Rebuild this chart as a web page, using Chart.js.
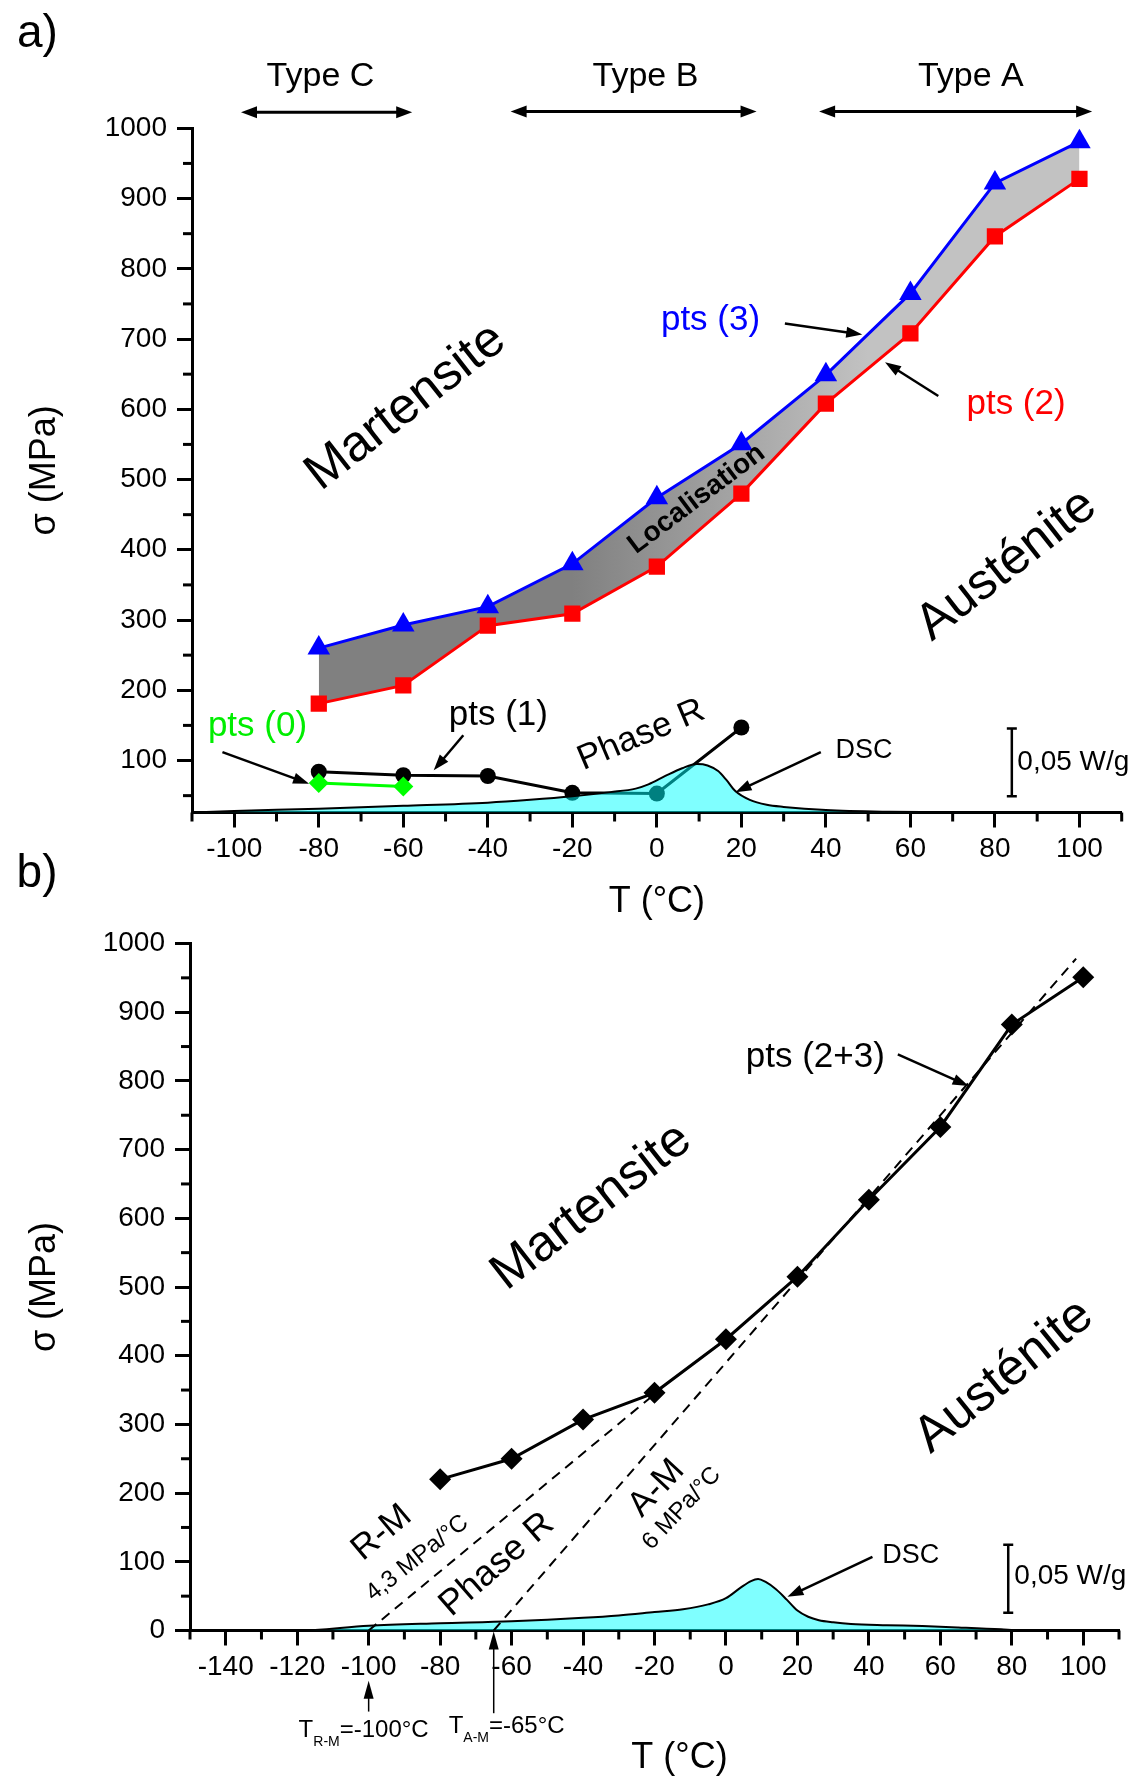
<!DOCTYPE html>
<html>
<head>
<meta charset="utf-8">
<script src="https://cdn.jsdelivr.net/npm/chart.js@4.4.1/dist/chart.umd.min.js"></script>
<style>
    html, body { margin: 0; padding: 0; background: #fff; }
    body { width: 1143px; height: 1778px; position: relative; overflow: hidden; }
    canvas { position: absolute; left: 0; }
    #chartA { top: 0; }
    #chartB { top: 840px; }
</style>
</head>
<body>
<canvas id="chartA" width="1143" height="930"></canvas>
<canvas id="chartB" width="1143" height="938"></canvas>
<script>
// ---- data ----
// panel a
var tempA = [-80, -60, -40, -20, 0, 20, 40, 60, 80, 100];
var pts3 = [260, 293, 319, 380, 474, 551, 649, 765, 922, 981];
var pts2 = [181, 207, 292, 309, 376, 480, 608, 708, 846, 928];
var tempPts1 = [-80, -60, -40, -20, 0, 20];
var pts1 = [84, 79, 78, 54, 53, 147];
var tempPts0 = [-80, -60];
var pts0 = [68, 63];
var dscTempA = [-110, -100, -80, -60, -40, -30, -20, -11, -5, -2, 2, 6, 9.5, 12, 14.5, 16.5, 18.5, 22, 26, 30, 40, 55, 70, 110];
var dscA = [26, 28, 31.5, 35.5, 40, 44, 49, 55, 60, 66, 78, 89, 95, 93, 85, 72, 57, 44, 37, 34, 29.5, 27, 26.2, 26];
var xTicksA = [-100, -80, -60, -40, -20, 0, 20, 40, 60, 80, 100];
var yTicksA = [100, 200, 300, 400, 500, 600, 700, 800, 900, 1000];

// panel b
var tempB = [-80, -60, -40, -20, 0, 20, 40, 60, 80, 100];
var pts23 = [220, 250, 307, 346, 424, 515, 627, 733, 882, 951];
var rmTemp = [-100, -20];
var rmLine = [0, 344];
var amTemp = [-65, 98];
var amLine = [0, 978];
var dscTempB = [-150, -120, -100, -80, -60, -40, -30, -20, -12, -5, 0, 4, 7, 9, 11, 14, 17, 20, 23, 26, 30, 35, 45, 55, 65, 77, 82, 110];
var dscB = [0, 0, 7, 10.5, 13.5, 18.5, 22, 27, 31, 38, 47, 62, 72, 75, 71, 60, 45, 29, 20, 15, 12, 9.6, 7.8, 6.5, 4.5, 1.7, 0, 0];
var xTicksB = [-140, -120, -100, -80, -60, -40, -20, 0, 20, 40, 60, 80, 100];
var yTicksB = [0, 100, 200, 300, 400, 500, 600, 700, 800, 900, 1000];

var FONT = "'Liberation Sans', Arial, sans-serif";
Chart.defaults.font.family = FONT;
Chart.defaults.color = '#000';

function pairs(xs, ys) {
    return xs.map(function (t, i) { return { x: t, y: ys[i] }; });
}

function minorValues(scale, step) {
    var out = [];
    var majors = scale.ticks.map(function (t) { return t.value; });
    for (var v = Math.ceil(scale.min / step) * step; v <= scale.max + 1e-9; v += step) {
        if (majors.indexOf(v) < 0) out.push(v);
    }
    return out;
}

function head(ctx, x1, y1, x2, y2, len, half) {
    var a = Math.atan2(y2 - y1, x2 - x1);
    var bx = x2 - len * Math.cos(a), by = y2 - len * Math.sin(a);
    ctx.beginPath();
    ctx.moveTo(x2, y2);
    ctx.lineTo(bx + half * Math.sin(a), by - half * Math.cos(a));
    ctx.lineTo(bx - half * Math.sin(a), by + half * Math.cos(a));
    ctx.closePath();
    ctx.fill();
}

function drawItem(ctx, it, px, py) {
    var col = it.color || '#000';
    ctx.fillStyle = col;
    ctx.strokeStyle = col;
    if (it.type === 'text') {
        ctx.save();
        ctx.translate(px(it.t), py(it.v));
        ctx.rotate((it.angle || 0) * Math.PI / 180);
        ctx.font = (it.bold ? 'bold ' : '') + it.size + 'px ' + FONT;
        ctx.textAlign = it.align || 'center';
        ctx.textBaseline = 'middle';
        ctx.fillText(it.text, 0, 0);
        ctx.restore();
    } else if (it.type === 'arrow') {
        var x1 = px(it.t1), y1 = py(it.v1), x2 = px(it.t2), y2 = py(it.v2);
        var len = it.head || 16, half = it.half || 5.5;
        var a = Math.atan2(y2 - y1, x2 - x1);
        var sx = x1, sy = y1;
        if (it.both) { sx = x1 + Math.cos(a) * len * 0.7; sy = y1 + Math.sin(a) * len * 0.7; }
        ctx.lineWidth = it.width || 2.5;
        ctx.beginPath();
        ctx.moveTo(sx, sy);
        ctx.lineTo(x2 - Math.cos(a) * len * 0.7, y2 - Math.sin(a) * len * 0.7);
        ctx.stroke();
        head(ctx, x1, y1, x2, y2, len, half);
        if (it.both) head(ctx, x2, y2, x1, y1, len, half);
    } else if (it.type === 'bar') {
        var x = px(it.t), ya = py(it.v1), yb = py(it.v2);
        ctx.lineWidth = 2.5;
        ctx.beginPath();
        ctx.moveTo(x, ya); ctx.lineTo(x, yb);
        ctx.moveTo(x - 5, ya); ctx.lineTo(x + 5, ya);
        ctx.moveTo(x - 5, yb); ctx.lineTo(x + 5, yb);
        ctx.stroke();
    } else if (it.type === 'sub') {
        var cx = px(it.t), cy = py(it.v);
        ctx.textAlign = 'left';
        ctx.textBaseline = 'alphabetic';
        it.parts.forEach(function (p) {
            ctx.font = p.size + 'px ' + FONT;
            ctx.fillText(p.text, cx, cy + (p.dy || 0));
            cx += ctx.measureText(p.text).width;
        });
    }
}

// minor ticks + labels, arrows etc. placed in data units
var annotate = {
    id: 'annotate',
    afterDraw: function (chart, args, opts) {
        var ctx = chart.ctx;
        var xs = chart.scales.x, ys = chart.scales.y;
        var px = function (t) { return xs.getPixelForValue(t); };
        var py = function (v) { return ys.getPixelForValue(v); };
        ctx.save();
        ctx.strokeStyle = '#000';
        ctx.lineWidth = 3;
        minorValues(xs, opts.minorX).forEach(function (t) {
            var x = px(t);
            ctx.beginPath(); ctx.moveTo(x, xs.top); ctx.lineTo(x, xs.top + 9); ctx.stroke();
        });
        minorValues(ys, opts.minorY).forEach(function (v) {
            var y = py(v);
            ctx.beginPath(); ctx.moveTo(ys.right, y); ctx.lineTo(ys.right - 9, y); ctx.stroke();
        });
        opts.items.forEach(function (it) { drawItem(ctx, it, px, py); });
        ctx.restore();
    }
};

function axisX(min, max, ticks, height, title) {
    return {
        type: 'linear', min: min, max: max, z: 1,
        afterBuildTicks: function (s) { s.ticks = ticks.map(function (v) { return { value: v }; }); },
        afterFit: function (s) { s.height = height; },
        grid: { drawOnChartArea: false, drawTicks: true, tickLength: 15, tickWidth: 3, tickColor: '#000' },
        border: { display: true, color: '#000', width: 3 },
        ticks: {
            color: '#000', font: { size: 28 }, padding: 5, maxRotation: 0, autoSkip: false,
            callback: function (v) { return String(v); }
        },
        title: title ? { display: true, text: title, color: '#000', font: { size: 36 }, padding: { top: 0, bottom: 6 } } : { display: false }
    };
}

function axisY(min, max, ticks, width, title) {
    return {
        type: 'linear', min: min, max: max, z: 1,
        afterBuildTicks: function (s) { s.ticks = ticks.map(function (v) { return { value: v }; }); },
        afterFit: function (s) { s.width = width; },
        grid: { drawOnChartArea: false, drawTicks: true, tickLength: 15, tickWidth: 3, tickColor: '#000' },
        border: { display: true, color: '#000', width: 3 },
        ticks: {
            color: '#000', font: { size: 28 }, padding: 10, autoSkip: false,
            callback: function (v) { return String(v); }
        },
        title: { display: true, text: title, color: '#000', font: { size: 36 }, padding: { top: 23, bottom: 0 } }
    };
}

function bandFill(context) {
    var chart = context.chart;
    if (!chart.chartArea) return '#a0a0a0';
    var x = chart.scales.x;
    var g = chart.ctx.createLinearGradient(x.getPixelForValue(-20), 0, x.getPixelForValue(50), 0);
    g.addColorStop(0, '#808080');
    g.addColorStop(1, '#c2c2c2');
    return g;
}

var itemsA = [
    { type: 'text', t: -146.6, v: 1134, text: 'a)', size: 46 },
    { type: 'text', t: -79.6, v: 1074, text: 'Type C', size: 34 },
    { type: 'text', t: -2.7, v: 1074, text: 'Type B', size: 34 },
    { type: 'text', t: 74.3, v: 1074, text: 'Type A', size: 34 },
    { type: 'arrow', both: true, t1: -98.4, v1: 1023, t2: -57.9, v2: 1023, width: 3, head: 16, half: 6 },
    { type: 'arrow', both: true, t1: -34.6, v1: 1024, t2: 23.6, v2: 1024, width: 3, head: 16, half: 6 },
    { type: 'arrow', both: true, t1: 38.4, v1: 1024, t2: 103, v2: 1024, width: 3, head: 16, half: 6 },
    { type: 'text', t: -59.4, v: 603, text: 'Martensite', size: 51, angle: -38 },
    { type: 'text', t: 82.8, v: 378, text: 'Austénite', size: 51, angle: -38 },
    { type: 'text', t: 9.4, v: 472, text: 'Localisation', size: 28, bold: true, angle: -37 },
    { type: 'text', t: 12.7, v: 727, text: 'pts (3)', size: 35, color: '#0000ff' },
    { type: 'arrow', t1: 30.3, v1: 722, t2: 48.6, v2: 706.5 },
    { type: 'text', t: 85, v: 607, text: 'pts (2)', size: 35, color: '#ff0000' },
    { type: 'arrow', t1: 66.6, v1: 619, t2: 54, v2: 667 },
    { type: 'text', t: -37.5, v: 164.5, text: 'pts (1)', size: 35 },
    { type: 'arrow', t1: -45.8, v1: 136, t2: -52.8, v2: 86 },
    { type: 'text', t: -94.5, v: 148, text: 'pts (0)', size: 35, color: '#00ee00' },
    { type: 'arrow', t1: -102.8, v1: 112, t2: -82.3, v2: 67 },
    { type: 'text', t: -3.7, v: 136, text: 'Phase R', size: 35, angle: -23 },
    { type: 'text', t: 49, v: 113.5, text: 'DSC', size: 27 },
    { type: 'arrow', t1: 38.8, v1: 112, t2: 18.6, v2: 55 },
    { type: 'bar', t: 84, v1: 145.5, v2: 49 },
    { type: 'text', t: 85.3, v: 97.5, text: '0,05 W/g', size: 28, align: 'left' }
];

var itemsB = [
    { type: 'text', t: -192.8, v: 1100, text: 'b)', size: 46 },
    { type: 'text', t: -37.6, v: 616.5, text: 'Martensite', size: 51, angle: -38 },
    { type: 'text', t: 77.9, v: 370, text: 'Austénite', size: 51, angle: -39 },
    { type: 'text', t: 25, v: 834, text: 'pts (2+3)', size: 35 },
    { type: 'arrow', t1: 48.1, v1: 838.5, t2: 67.9, v2: 792.7 },
    { type: 'text', t: -96.3, v: 142, text: 'R-M', size: 35, angle: -40 },
    { type: 'text', t: -86.4, v: 105.3, text: '4,3 MPa/°C', size: 24, angle: -38.5 },
    { type: 'text', t: -64.1, v: 95.6, text: 'Phase R', size: 36, angle: -41 },
    { type: 'text', t: -19.4, v: 207, text: 'A-M', size: 35, angle: -47 },
    { type: 'text', t: -12.4, v: 177.6, text: '6 MPa/°C', size: 24, angle: -47 },
    { type: 'text', t: 51.7, v: 109, text: 'DSC', size: 27 },
    { type: 'arrow', t1: 41, v1: 107, t2: 17.2, v2: 49 },
    { type: 'bar', t: 79, v1: 125, v2: 26 },
    { type: 'text', t: 80.7, v: 79.6, text: '0,05 W/g', size: 28, align: 'left' },
    { type: 'arrow', t1: -100, v1: -118, t2: -100, v2: -73, width: 1.5, head: 18, half: 5 },
    { type: 'arrow', t1: -65, v1: -120.4, t2: -65, v2: -1.5, width: 1.5, head: 18, half: 5 },
    { type: 'sub', t: -119.6, v: -154.5, parts: [{ text: 'T', size: 24 }, { text: 'R-M', size: 14, dy: 9 }, { text: '=-100°C', size: 24 }] },
    { type: 'sub', t: -77.6, v: -149.5, parts: [{ text: 'T', size: 24 }, { text: 'A-M', size: 14, dy: 9 }, { text: '=-65°C', size: 24 }] },
    { type: 'text', t: -13, v: -185.5, text: 'T (°C)', size: 36 }
];

var chartA = new Chart(document.getElementById('chartA'), {
    type: 'line',
    data: {
        datasets: [
            {
                label: 'DSC', data: pairs(dscTempA, dscA),
                borderColor: '#000', borderWidth: 2, backgroundColor: 'rgba(0,255,255,0.5)',
                fill: 'start', pointRadius: 0, cubicInterpolationMode: 'monotone'
            },
            {
                label: 'pts (2)', data: pairs(tempA, pts2),
                borderColor: '#ff0000', borderWidth: 3, fill: false,
                pointStyle: 'rect', pointRadius: 11.5, pointBackgroundColor: '#ff0000', pointBorderWidth: 0
            },
            {
                label: 'pts (3)', data: pairs(tempA, pts3),
                borderColor: '#0000ff', borderWidth: 3, fill: 1, backgroundColor: bandFill,
                pointStyle: 'triangle', pointRadius: 13, pointBackgroundColor: '#0000ff', pointBorderWidth: 0
            },
            {
                label: 'pts (0)', data: pairs(tempPts0, pts0),
                borderColor: '#00ff00', borderWidth: 3, fill: false,
                pointStyle: 'rectRot', pointRadius: 10, pointBackgroundColor: '#00ff00', pointBorderWidth: 0
            },
            {
                label: 'pts (1)', data: pairs(tempPts1, pts1),
                borderColor: '#000', borderWidth: 3, fill: false,
                pointStyle: 'circle', pointRadius: 8, pointBackgroundColor: '#000', pointBorderWidth: 0
            }
        ]
    },
    options: {
        responsive: false,
        animation: false,
        layout: { padding: { top: 128.3, right: 21.3, left: 0, bottom: 0 } },
        plugins: {
            legend: { display: false },
            tooltip: { enabled: false },
            annotate: { minorX: 10, minorY: 50, items: itemsA }
        },
        scales: {
            x: axisX(-110, 110, xTicksA, 117.5, 'T (°C)'),
            y: axisY(26, 1000, yTicksA, 192, 'σ (MPa)')
        }
    },
    plugins: [annotate]
});

var chartB = new Chart(document.getElementById('chartB'), {
    type: 'line',
    data: {
        datasets: [
            {
                label: 'pts (2+3)', data: pairs(tempB, pts23),
                borderColor: '#000', borderWidth: 3, fill: false,
                pointStyle: 'rectRot', pointRadius: 11, pointBackgroundColor: '#000', pointBorderWidth: 0
            },
            {
                label: 'R-M', data: pairs(rmTemp, rmLine),
                borderColor: '#000', borderWidth: 2, borderDash: [10, 7], fill: false, pointRadius: 0
            },
            {
                label: 'A-M', data: pairs(amTemp, amLine),
                borderColor: '#000', borderWidth: 2, borderDash: [10, 7], fill: false, pointRadius: 0
            },
            {
                label: 'DSC', data: pairs(dscTempB, dscB),
                borderColor: '#000', borderWidth: 2, backgroundColor: 'rgba(0,255,255,0.5)',
                fill: 'start', pointRadius: 0, cubicInterpolationMode: 'monotone'
            }
        ]
    },
    options: {
        responsive: false,
        animation: false,
        layout: { padding: { top: 103.5, right: 24, left: 0, bottom: 0 } },
        plugins: {
            legend: { display: false },
            tooltip: { enabled: false },
            annotate: { minorX: 10, minorY: 50, items: itemsB }
        },
        scales: {
            x: axisX(-150, 110, xTicksB, 147.5, null),
            y: axisY(0, 1000, yTicksB, 190, 'σ (MPa)')
        }
    },
    plugins: [annotate]
});
</script>
</body>
</html>
